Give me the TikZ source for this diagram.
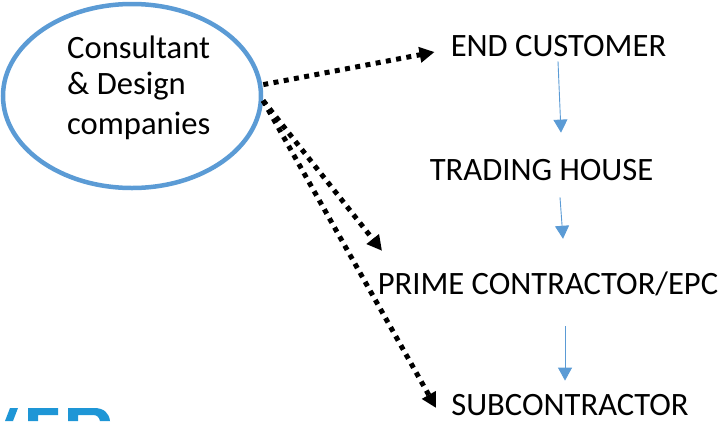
\documentclass[tikz,border=0pt]{standalone}
\usepackage{fontspec}
\setmainfont{Carlito}
\usetikzlibrary{arrows.meta,shapes.geometric}
\definecolor{bluem}{HTML}{5B9BD5}
\definecolor{logob}{HTML}{1E96D6}
\tikzset{x=1pt,y=-1pt,
 lab/.style={font=\fontsize{32.6}{36}\selectfont,text=black,inner sep=0pt,anchor=center},
 dotline/.style={line width=5pt,black,dash pattern=on 5pt off 5.4pt,-{Triangle[length=15pt,width=15pt,sep=0pt]}},
 thinarrow/.style={line width=0.9pt,bluem,-{Triangle[length=13pt,width=14pt]}},
 logo/.style={fill=logob,draw=none}}
\begin{document}
\begin{tikzpicture}
\useasboundingbox (0,0) rectangle (719,421);
\node[ellipse,draw=bluem,line width=4.5pt,minimum width=258pt,minimum height=184pt,inner sep=0pt] (cons) at (132,96) {};
\node[lab,anchor=west] (t1) at (67,47) {Consultant};
\node[lab,anchor=west] (t2) at (67,86) {\&~Design};
\node[lab,anchor=west] (t3) at (67,126) {companies};
\node[lab] (endc) at (558.5,46) {END CUSTOMER};
\node[lab] (trad) at (541.5,170) {TRADING HOUSE};
\node[lab] (prime) at (548,284) {PRIME CONTRACTOR/EPC};
\node[lab] (subc) at (570,405) {SUBCONTRACTOR};
\draw[dotline] ([shift={(1,0)}]cons.5) -- ([shift={(-16,6)}]endc.west);
\draw[dotline] ([shift={(0,0)}]cons.-2) -- ([shift={(-166,-21)}]prime.north);
\draw[dotline] ([shift={(0,0)}]cons.-2) -- ([shift={(-15,3)}]subc.west);
\draw[thinarrow] ([shift={(-0.5,4.5)}]endc.south) -- ([shift={(19.5,-26.5)}]trad.north);
\draw[thinarrow] ([shift={(18.5,16.5)}]trad.south) -- ([shift={(15,-33)}]prime.north);
\draw[thinarrow] ([shift={(17,30)}]prime.south) -- ([shift={(-5,-13.5)}]subc.north);
% cropped logo fragment
\fill[logo] (5,421) -- (10,408) -- (18,408) -- (13,421) -- cycle;
\fill[logo] (28,421) -- (28,408) -- (58,408) -- (58,415) -- (38,415) -- (38,421) -- cycle;
\fill[logo] (68,421) -- (68,408) -- (94,408) .. controls (104,408) and (109,413) .. (110,421) -- (100,421) .. controls (99,417) and (97,415) .. (93,415) -- (78,415) -- (78,421) -- cycle;
\end{tikzpicture}
\end{document}
